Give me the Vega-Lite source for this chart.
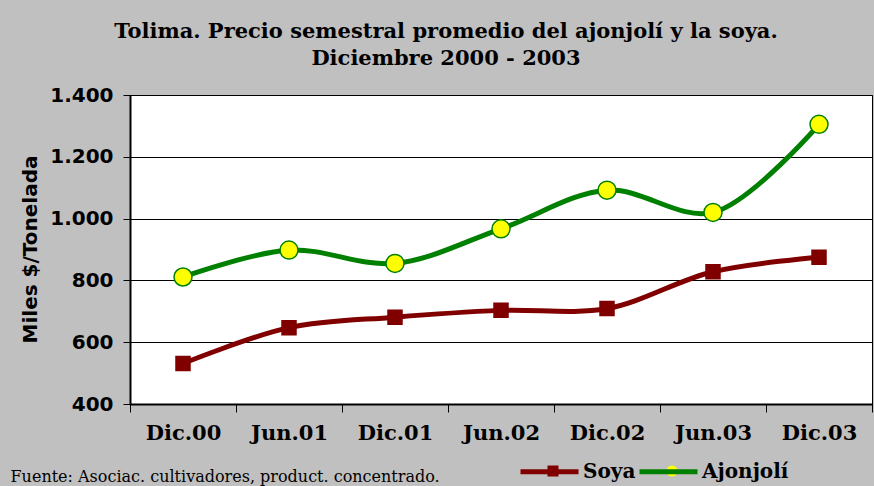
{
  "$schema": "https://vega.github.io/schema/vega-lite/v6.json",
  "width": 742,
  "height": 309,
  "autosize": "none",
  "padding": {"left": 130, "top": 95, "right": 2, "bottom": 82},
  "background": "#C0C0C0",
  "title": {
    "text": ["Tolima. Precio semestral promedio del ajonjolí y la soya.", "Diciembre 2000 - 2003"],
    "font": "DejaVu Serif",
    "fontSize": 21,
    "fontWeight": "bold",
    "color": "#000000",
    "lineHeight": 27,
    "anchor": "middle",
    "dx": -55,
    "offset": 16
  },
  "config": {
    "view": {"fill": "#FFFFFF", "stroke": "#000000", "strokeWidth": 1}
  },
  "resolve": {"scale": {"stroke": "independent"}, "legend": {"stroke": "independent"}},
  "data": {
    "values": [
      {"fecha": "Dic.00", "serie": "Soya", "marca": "Soya", "valor": 531},
      {"fecha": "Jun.01", "serie": "Soya", "marca": "Soya", "valor": 647},
      {"fecha": "Dic.01", "serie": "Soya", "marca": "Soya", "valor": 681},
      {"fecha": "Jun.02", "serie": "Soya", "marca": "Soya", "valor": 703},
      {"fecha": "Dic.02", "serie": "Soya", "marca": "Soya", "valor": 709},
      {"fecha": "Jun.03", "serie": "Soya", "marca": "Soya", "valor": 828},
      {"fecha": "Dic.03", "serie": "Soya", "marca": "Soya", "valor": 875},
      {"fecha": "Dic.00", "serie": "Ajonjolí", "marca": "Ajonjolí", "valor": 811},
      {"fecha": "Jun.01", "serie": "Ajonjolí", "marca": "Ajonjolí", "valor": 898},
      {"fecha": "Dic.01", "serie": "Ajonjolí", "marca": "Ajonjolí", "valor": 855},
      {"fecha": "Jun.02", "serie": "Ajonjolí", "marca": "Ajonjolí", "valor": 967},
      {"fecha": "Dic.02", "serie": "Ajonjolí", "marca": "Ajonjolí", "valor": 1092},
      {"fecha": "Jun.03", "serie": "Ajonjolí", "marca": "Ajonjolí", "valor": 1020},
      {"fecha": "Dic.03", "serie": "Ajonjolí", "marca": "Ajonjolí", "valor": 1305}
    ]
  },
  "encoding": {
    "x": {
      "field": "fecha",
      "type": "ordinal",
      "sort": ["Dic.00", "Jun.01", "Dic.01", "Jun.02", "Dic.02", "Jun.03", "Dic.03"],
      "scale": {"paddingInner": 0, "paddingOuter": 0},
      "axis": {
        "title": "Fuente: Asociac. cultivadores, product. concentrado.",
        "titleFont": "DejaVu Serif",
        "titleFontWeight": "normal",
        "titleFontSize": 16,
        "titleColor": "#000000",
        "titleAlign": "left",
        "titleAnchor": "start",
        "titleBaseline": "alphabetic",
        "titleX": -120,
        "titleY": 77,
        "labelAngle": 0,
        "labelFont": "DejaVu Serif",
        "labelFontWeight": "bold",
        "labelFontSize": 21,
        "labelColor": "#000000",
        "labelPadding": 10,
        "tickBand": "extent",
        "tickSize": 8,
        "tickColor": "#000000",
        "tickWidth": 1,
        "domainColor": "#000000",
        "domainWidth": 2,
        "grid": false
      }
    },
    "y": {
      "field": "valor",
      "type": "quantitative",
      "scale": {"domain": [400, 1400], "nice": false, "zero": false},
      "axis": {
        "values": [400, 600, 800, 1000, 1200, 1400],
        "labelExpr": "replace(format(datum.value, ','), ',', '.')",
        "labelFont": "DejaVu Sans",
        "labelFontWeight": "bold",
        "labelFontSize": 20,
        "labelColor": "#000000",
        "labelPadding": 10,
        "tickSize": 7,
        "tickColor": "#000000",
        "domainColor": "#000000",
        "domainWidth": 2,
        "grid": true,
        "gridColor": "#000000",
        "gridOpacity": 1,
        "gridWidth": 1,
        "title": "Miles $/Tonelada",
        "titleFont": "DejaVu Sans",
        "titleFontWeight": "bold",
        "titleFontSize": 20,
        "titleColor": "#000000",
        "titleAngle": -90,
        "titleAlign": "center",
        "titleBaseline": "alphabetic",
        "titleX": -94,
        "titleY": 154
      }
    }
  },
  "layer": [
    {
      "mark": {"type": "line", "interpolate": "catmull-rom", "strokeWidth": 5},
      "encoding": {
        "stroke": {
          "field": "serie",
          "type": "nominal",
          "scale": {"domain": ["Soya", "Ajonjolí"], "range": ["#800000", "#008000"]},
          "legend": {
            "title": null,
            "orient": "none",
            "direction": "horizontal",
            "legendX": 388,
            "legendY": 345,
            "symbolType": "stroke",
            "symbolSize": 3364,
            "symbolStrokeWidth": 5,
            "labelFont": "DejaVu Serif",
            "labelFontWeight": "bold",
            "labelFontSize": 20,
            "labelColor": "#000000",
            "labelOffset": 2,
            "columnPadding": -7
          }
        }
      }
    },
    {
      "mark": {"type": "point", "filled": true, "opacity": 1, "strokeWidth": 1.5},
      "encoding": {
        "fill": {
          "field": "marca",
          "type": "nominal",
          "scale": {"domain": ["Soya", "Ajonjolí"], "range": ["#800000", "#FFFF00"]},
          "legend": {
            "title": null,
            "orient": "none",
            "direction": "horizontal",
            "legendX": 413,
            "legendY": 366,
            "symbolSize": 121,
            "symbolStrokeWidth": 1.5,
            "labelExpr": "''",
            "labelFont": "DejaVu Serif",
            "labelFontWeight": "bold",
            "labelFontSize": 20,
            "labelOffset": 99,
            "columnPadding": -7
          }
        },
        "shape": {
          "field": "marca",
          "type": "nominal",
          "scale": {"domain": ["Soya", "Ajonjolí"], "range": ["square", "circle"]}
        },
        "stroke": {
          "field": "marca",
          "type": "nominal",
          "scale": {"domain": ["Soya", "Ajonjolí"], "range": ["#800000", "#008000"]}
        },
        "size": {
          "condition": {"test": "datum.marca === 'Ajonjolí'", "value": 324},
          "value": 196
        }
      }
    }
  ]
}
